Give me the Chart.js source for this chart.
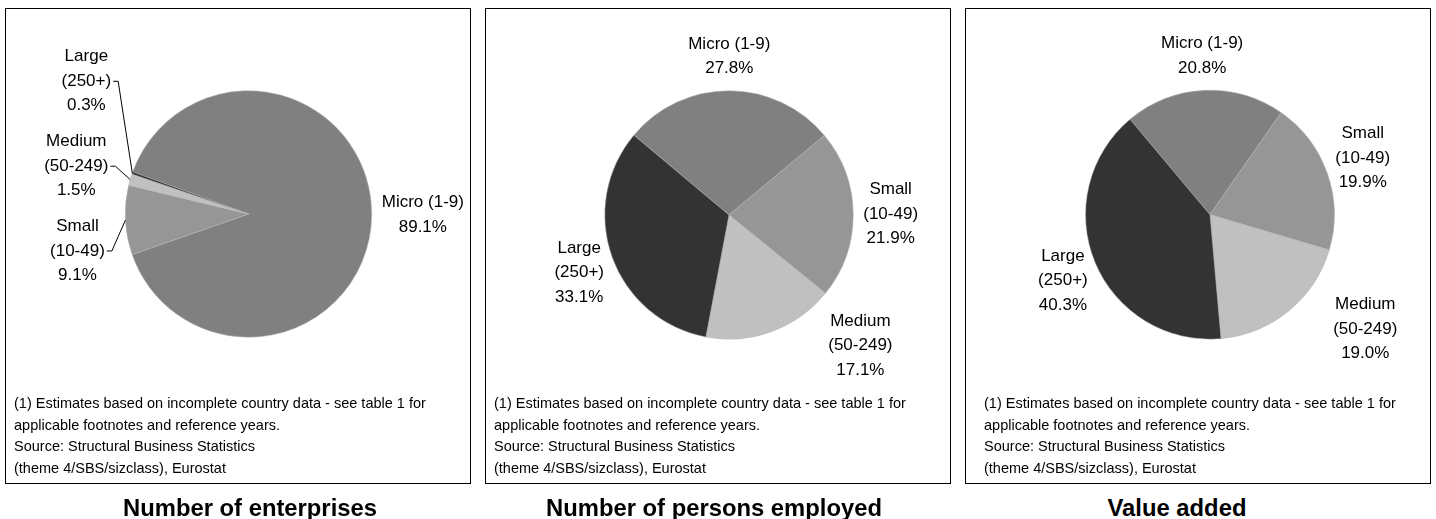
<!DOCTYPE html>
<html>
<head>
<meta charset="utf-8">
<script src="https://cdn.jsdelivr.net/npm/chart.js@4"></script>
<style>
  body { margin: 0; background: #fff; font-family: "Liberation Sans", Arial, sans-serif; }
  #wrap { position: relative; width: 1436px; height: 519px; overflow: hidden; }
  .box { position: absolute; top: 8px; width: 466px; height: 476px; border: 1px solid #000; box-sizing: border-box; }
  .box canvas { position: absolute; left: 0; top: 0; }
  .note { position: absolute; top: 384px; font-size: 14.5px; line-height: 21.7px; color: #000; white-space: nowrap; }
  .title { position: absolute; top: 496px; font-weight: bold; font-size: 23.8px; line-height: 23.8px;
           white-space: nowrap; transform: translateX(-50%); color: #000; }
</style>
</head>
<body>
<div id="wrap"></div>
<script>
// size classes, in clockwise order
const categories = ['Micro (1-9)', 'Small (10-49)', 'Medium (50-249)', 'Large (250+)'];
const labelLines = [['Micro (1-9)'], ['Small', '(10-49)'], ['Medium', '(50-249)'], ['Large', '(250+)']];

// shares, %
const enterprises = [89.1, 9.1, 1.5, 0.3];
const personsEmployed = [27.8, 21.9, 17.1, 33.1];
const valueAdded = [20.8, 19.9, 19.0, 40.3];

const panelTitles = ['Number of enterprises', 'Number of persons employed', 'Value added'];
const noteLines = [
  '(1) Estimates based on incomplete country data - see table 1 for',
  'applicable footnotes and reference years.',
  'Source: Structural Business Statistics',
  '(theme 4/SBS/sizclass), Eurostat'
];

const sliceColors = ['#808080', '#969696', '#c0c0c0', '#333333'];

// layout of the three boxes (pie centre and radius inside the box)
const panels = [
  { values: enterprises, left: 5, rotation: -70, pie: { cx: 242.5, cy: 205, r: 123.5 }, noteLeft: 8, titleX: 250,
    moves: { 1: { a: 257.8, d: 1.42, leader: true }, 2: { a: 285.5, d: 1.45, leader: true }, 3: { a: 309.3, d: 1.70, leader: true } } },
  { values: personsEmployed, left: 485, rotation: -50, pie: { cx: 243, cy: 206, r: 124.5 }, noteLeft: 8, titleX: 714,
    moves: { 2: { a: 134.8, d: 1.49 } } },
  { values: valueAdded, left: 965, rotation: -40, pie: { cx: 244, cy: 205.7, r: 124.7 }, noteLeft: 18, titleX: 1177,
    moves: { 2: { a: 126.4, d: 1.55 } } }
];

const sliceLabels = {
  id: 'sliceLabels',
  afterDatasetsDraw(chart, args, opts) {
    const ctx = chart.ctx;
    const arcs = chart.getDatasetMeta(0).data;
    const values = chart.data.datasets[0].data;
    const lh = 24.5;
    ctx.save();
    ctx.font = '17px "Liberation Sans", Arial, sans-serif';
    ctx.fillStyle = '#000';
    ctx.strokeStyle = '#000';
    ctx.lineWidth = 1;
    ctx.textAlign = 'center';
    ctx.textBaseline = 'middle';
    arcs.forEach((arc, i) => {
      const p = arc.getProps(['x', 'y', 'startAngle', 'endAngle', 'outerRadius'], true);
      const r = p.outerRadius;
      const lines = labelLines[i].concat(values[i].toFixed(1) + '%');
      const w = Math.max(...lines.map(s => ctx.measureText(s).width));
      const h = lines.length * lh;
      const mid = (p.startAngle + p.endAngle) / 2;
      const move = opts.moves[i];
      let bx, by;
      if (move) {
        const a = move.a * Math.PI / 180;
        bx = p.x + move.d * r * Math.sin(a);
        by = p.y - move.d * r * Math.cos(a);
      } else {
        const dx = Math.cos(mid), dy = Math.sin(mid);
        bx = p.x + (r + opts.gap) * dx + dx * w / 2;
        by = p.y + (r + opts.gap) * dy + dy * h / 2;
      }
      lines.forEach((s, k) => ctx.fillText(s, bx, by + (k - (lines.length - 1) / 2) * lh));
      if (move && move.leader) {
        const x0 = bx + ctx.measureText(lines[1]).width / 2 + 2;
        ctx.beginPath();
        ctx.moveTo(x0, by);
        ctx.lineTo(x0 + 5, by);
        ctx.lineTo(p.x + r * Math.cos(mid), p.y + r * Math.sin(mid));
        ctx.stroke();
      }
    });
    ctx.restore();
  }
};

const wrap = document.getElementById('wrap');

panels.forEach((pn, idx) => {
  const box = document.createElement('div');
  box.className = 'box';
  box.style.left = pn.left + 'px';
  wrap.appendChild(box);

  const W = 464, H = 474;
  const canvas = document.createElement('canvas');
  canvas.width = W;
  canvas.height = H;
  canvas.style.width = W + 'px';
  canvas.style.height = H + 'px';
  box.appendChild(canvas);

  const note = document.createElement('div');
  note.className = 'note';
  note.style.left = pn.noteLeft + 'px';
  note.innerHTML = noteLines.join('<br>');
  box.appendChild(note);

  const title = document.createElement('div');
  title.className = 'title';
  title.style.left = pn.titleX + 'px';
  title.textContent = panelTitles[idx];
  wrap.appendChild(title);

  const { cx, cy, r } = pn.pie;
  new Chart(canvas, {
    type: 'pie',
    data: {
      labels: categories,
      datasets: [{
        data: pn.values,
        backgroundColor: sliceColors,
        borderColor: '#b4b4b4',
        borderWidth: 0.5,
        hoverOffset: 0
      }]
    },
    options: {
      responsive: false,
      animation: false,
      devicePixelRatio: 1,
      rotation: pn.rotation,
      layout: { padding: { left: cx - r, top: cy - r, right: W - cx - r, bottom: H - cy - r } },
      events: [],
      plugins: {
        legend: { display: false },
        tooltip: { enabled: false },
        sliceLabels: { gap: 10, moves: pn.moves }
      }
    },
    plugins: [sliceLabels]
  });
});
</script>
</body>
</html>
